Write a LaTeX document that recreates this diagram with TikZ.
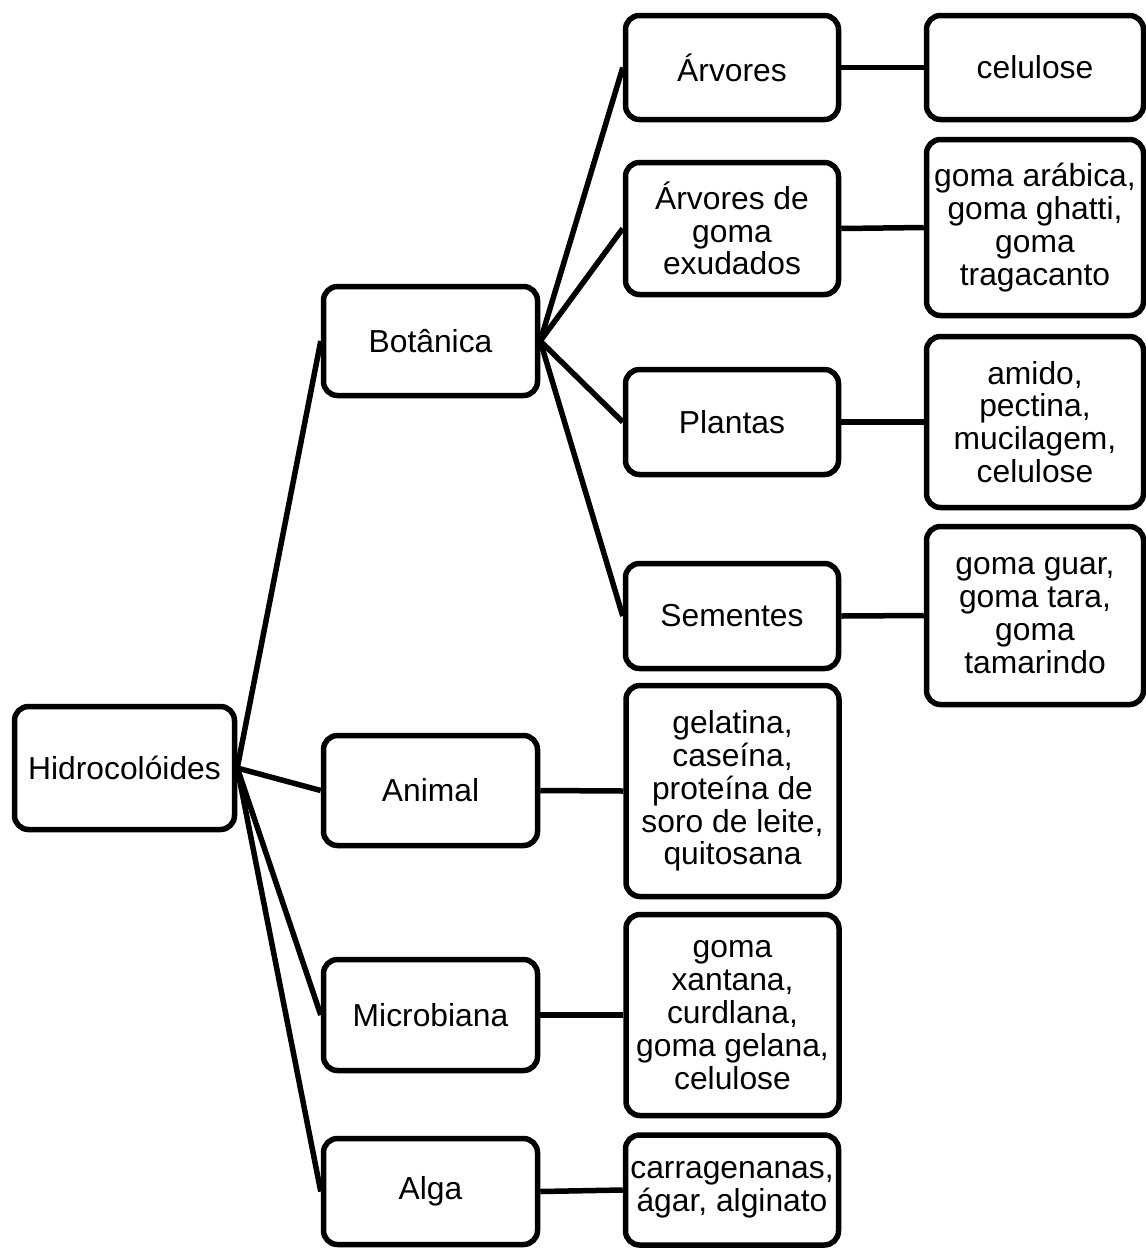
\documentclass[tikz,border=0pt]{standalone}
\usepackage{fontspec}
\setmainfont{Liberation Sans}
\begin{document}
\begin{tikzpicture}[x=0.5pt,y=-0.5pt,
        caixa/.style={draw, line width=2.75pt, rounded corners=7pt, align=center,
            inner sep=0pt, font=\fontsize{15.9pt}{16.4pt}\selectfont},
        col2/.style={caixa, minimum width=107pt},
        col3/.style={caixa, minimum width=106.5pt},
        col4/.style={caixa, minimum width=108.5pt},
        ligacao/.style={line width=2.75pt}]
    \useasboundingbox (0,0) rectangle (1146,1249);
    % raiz
    \node[caixa, minimum width=110pt, minimum height=61.5pt] (hidro) at (124.5,768) {Hidrocolóides};
    % origem
    \node[col2, minimum height=54.5pt] (bot) at (430.5,341) {Botânica};
    \node[col2, minimum height=55pt] (ani) at (430.5,790.5) {Animal};
    \node[col2, minimum height=55.5pt] (mic) at (430.5,1015) {Microbiana};
    \node[col2, minimum height=53pt] (alg) at (430.5,1191.5) {Alga};
    % fontes botanicas e exemplos
    \node[col3, minimum height=52pt] (arv) at (732,67.5) {Árvores};
    \node[col3, minimum height=66pt] (arvg) at (732,228.5) {Árvores de\\goma\\exudados};
    \node[col3, minimum height=52.5pt] (pla) at (732,422) {Plantas};
    \node[col3, minimum height=52.5pt] (sem) at (732,616) {Sementes};
    \node[col3, minimum height=105.5pt] (exani) at (732.5,791) {gelatina,\\caseína,\\proteína de\\soro de leite,\\quitosana};
    \node[col3, minimum height=100.5pt] (exmic) at (732.5,1015) {goma\\xantana,\\curdlana,\\goma gelana,\\celulose};
    \node[col3, minimum height=55pt] (exalg) at (732,1190) {carragenanas,\\ágar, alginato};
    \node[col4, minimum height=52pt] (exarv) at (1035,67.5) {celulose};
    \node[col4, minimum height=88pt] (exarvg) at (1035,227.5) {goma arábica,\\goma ghatti,\\goma\\tragacanto};
    \node[col4, minimum height=85.5pt] (expla) at (1035,422) {amido,\\pectina,\\mucilagem,\\celulose};
    \node[col4, minimum height=89pt] (exsem) at (1035,615.5) {goma guar,\\goma tara,\\goma\\tamarindo};
    % ligacoes
    \foreach \a/\b in {hidro/bot, hidro/ani, hidro/mic, hidro/alg,
                       bot/arv, bot/arvg, bot/pla, bot/sem,
                       ani/exani, mic/exmic, alg/exalg,
                       arv/exarv, arvg/exarvg, pla/expla, sem/exsem} {
        \draw[ligacao] (\a.east) -- (\b.west);
    }
\end{tikzpicture}
\end{document}
